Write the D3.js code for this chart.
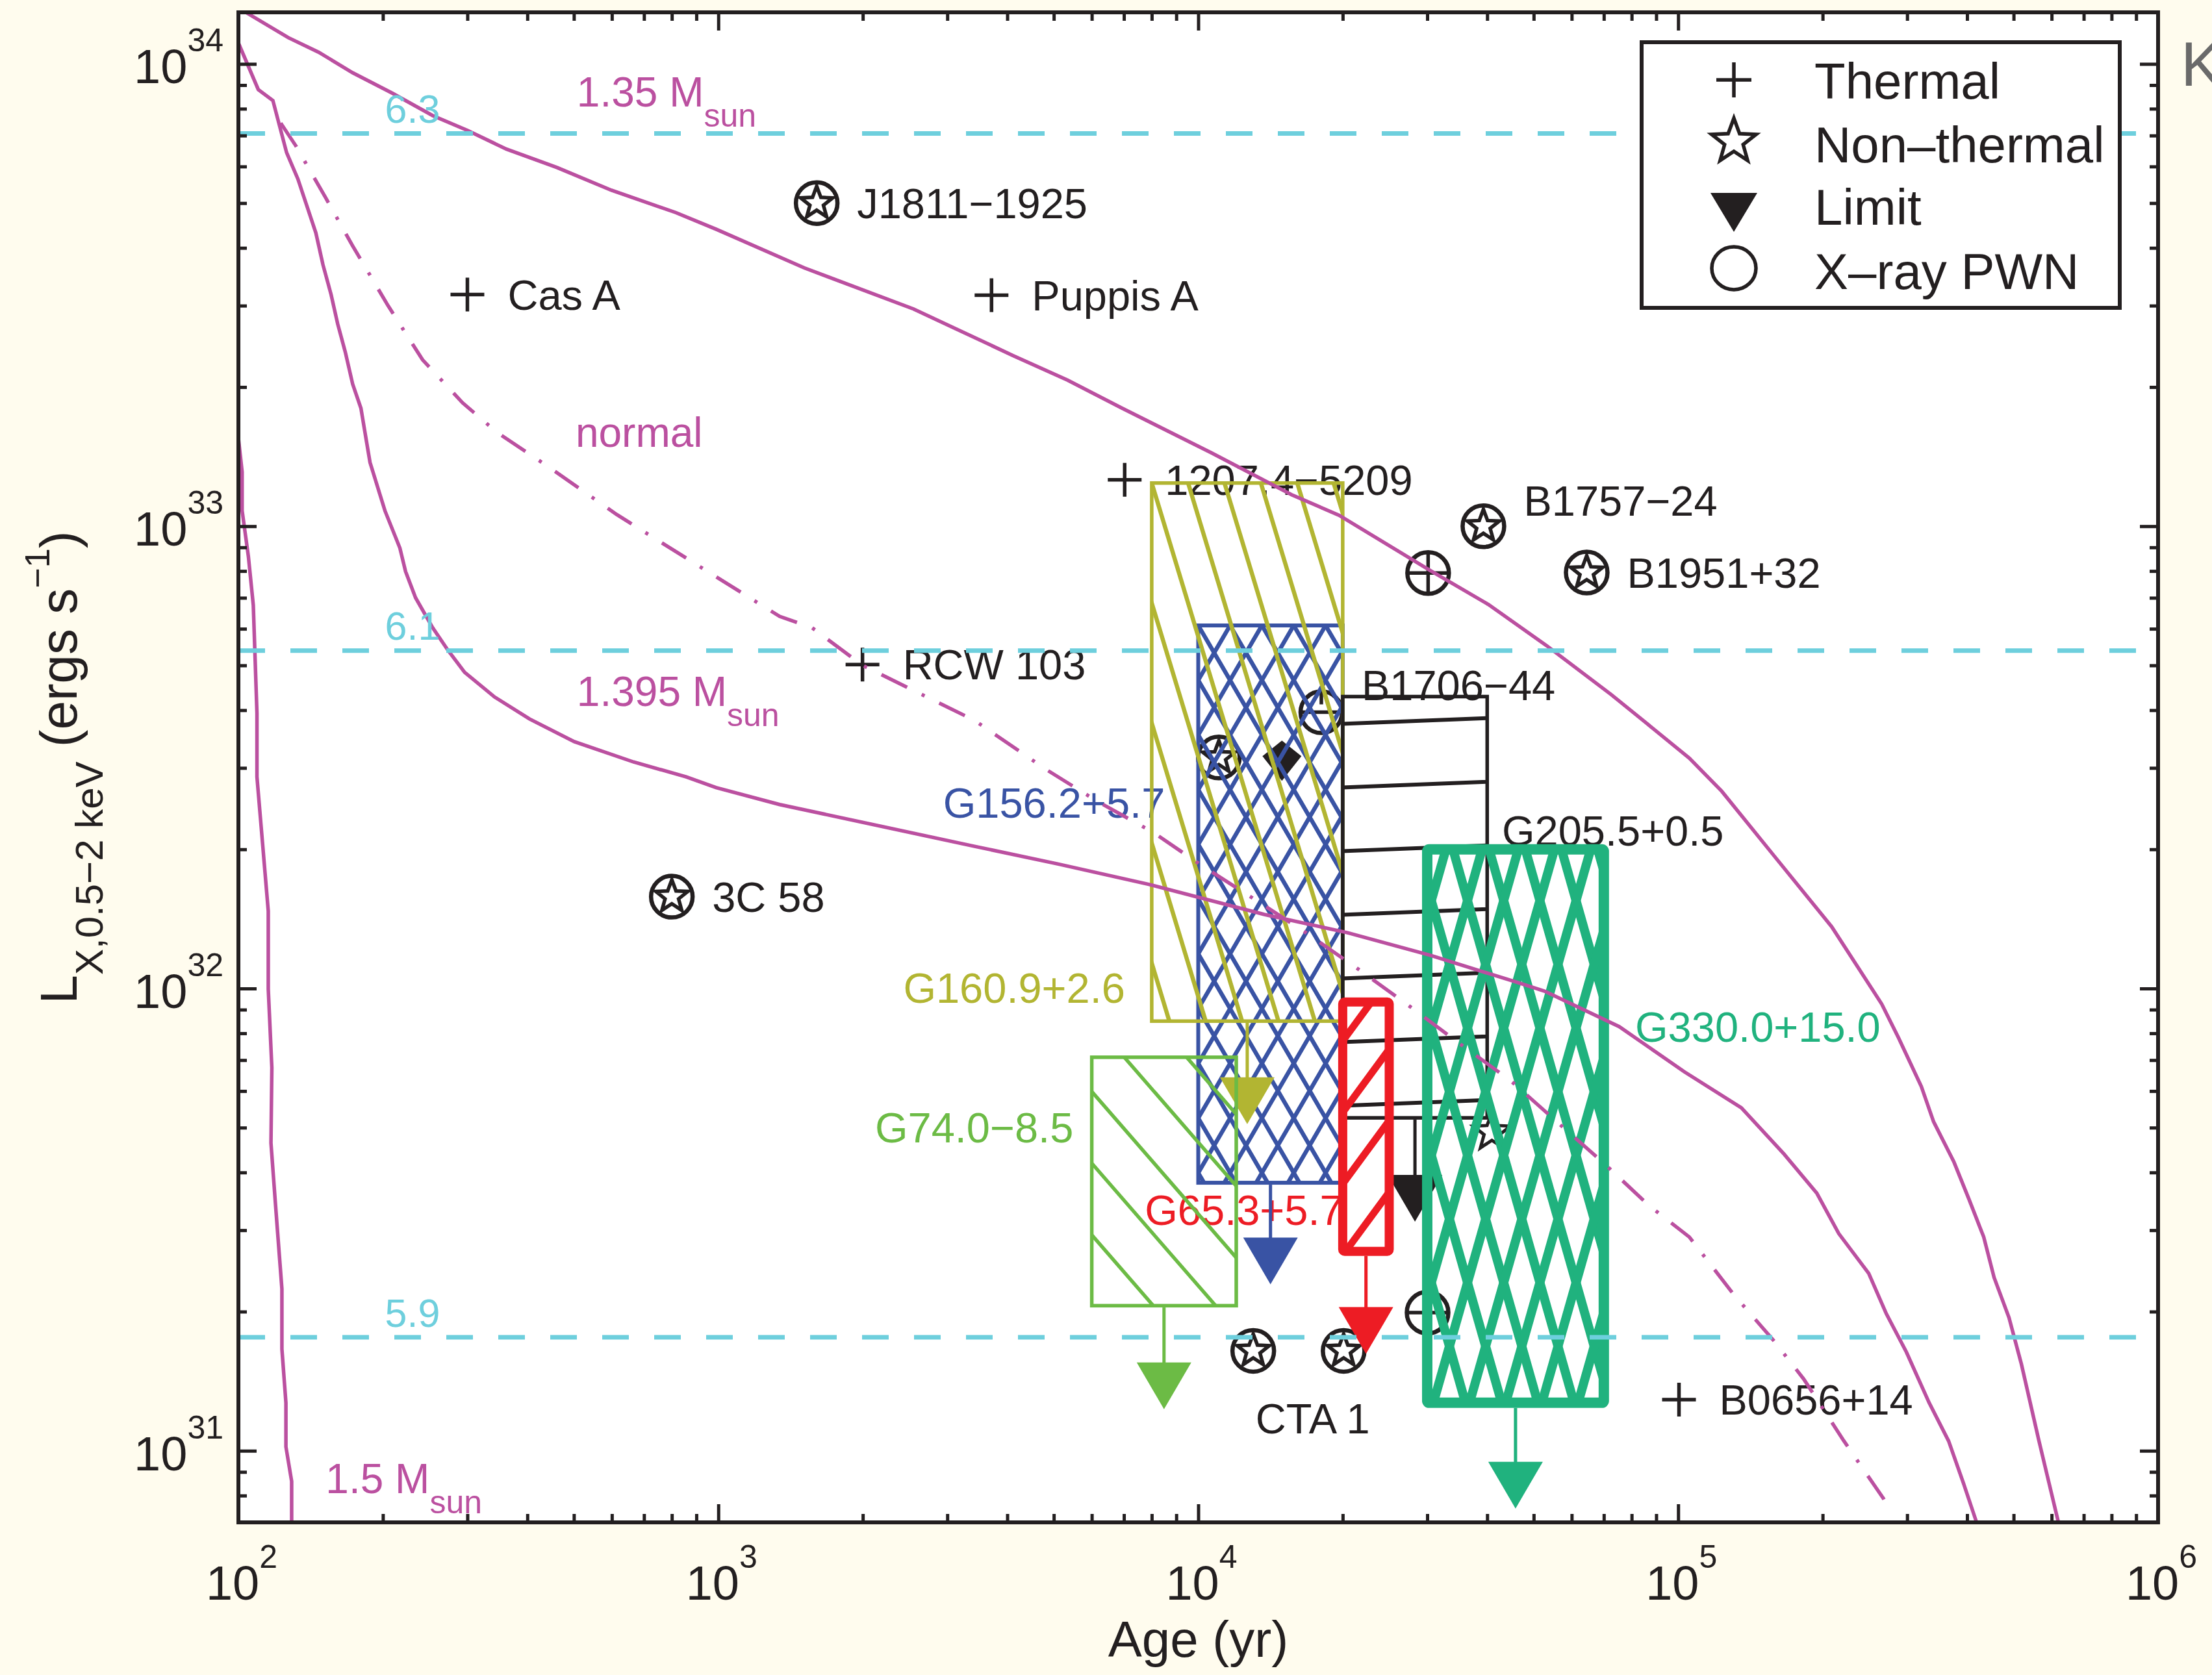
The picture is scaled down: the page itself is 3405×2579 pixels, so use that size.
<!DOCTYPE html>
<html><head><meta charset="utf-8">
<script src="https://cdn.jsdelivr.net/npm/d3@7"></script>
<style>
body{margin:0;background:#fffcee;}
svg{display:block;}
text{font-family:"Liberation Sans",Arial,Helvetica,sans-serif;}
</style>
</head><body>
<script>
// ---------------- DATA ----------------
// cooling curves: [age (yr), L_X (erg/s)]
const curve135 = [[104,1.29e34],[127,1.14e34],[147,1.06e34],[173,9.57e33],[209,8.65e33],[254,7.73e33],[300,7.18e33],[362,6.54e33],[461,5.97e33],[599,5.33e33],[815,4.77e33],[989,4.39e33],[1511,3.62e33],[2551,2.95e33],[4111,2.34e33],[5341,2.07e33],[6939,1.80e33],[10670,1.44e33],[15650,1.17e33],[19660,1.056e33],[30310,8.04e32],[40250,6.77e32],[53150,5.52e32],[72570,4.32e32],[85880,3.75e32],[105500,3.15e32],[123300,2.67e32],[158200,1.94e32],[178700,1.66e32],[208900,1.36e32],[265500,9.26e31],[287900,7.82e31],[321100,6.14e31],[340600,5.15e31],[375300,4.22e31],[403200,3.51e31],[433200,2.90e31],[455300,2.37e31],[489100,1.94e31],[519000,1.54e31],[564700,1.05e31],[619900,7.0e30]];
const curve1395 = [[100,1.11e34],[110,8.80e33],[118,8.33e33],[126,6.43e33],[133,5.64e33],[145,4.31e33],[150,3.68e33],[156,3.17e33],[161,2.74e33],[167,2.38e33],[173,2.03e33],[180,1.80e33],[188,1.375e33],[202,1.08e33],[217,8.97e32],[223,7.98e32],[234,7.0e32],[254,6.03e32],[273,5.40e32],[296,4.83e32],[342,4.27e32],[404,3.83e32],[501,3.42e32],[666,3.09e32],[857,2.87e32],[989,2.72e32],[1342,2.50e32],[3420,2.03e32],[5091,1.86e32],[7886,1.68e32],[13730,1.446e32],[20470,1.32e32],[30460,1.18e32],[45340,1.037e32],[52660,9.87e31],[75370,8.27e31],[102900,6.61e31],[135400,5.52e31],[166300,4.38e31],[194400,3.61e31],[216100,2.95e31],[249500,2.42e31],[271400,1.98e31],[298900,1.635e31],[333400,1.27e31],[366000,1.05e31],[393200,8.5e30],[418600,7.0e30]];
const curveNormal = [[122.5,7.45e33],[131.6,6.66e33],[151.9,5.14e33],[173,4.04e33],[205,3.0e33],[242,2.29e33],[293,1.85e33],[346,1.595e33],[440,1.35e33],[614,1.06e33],[941,8.03e32],[1342,6.38e32],[1568,6.03e32],[1997,5.0e32],[3420,3.80e32],[4788,2.99e32],[6201,2.53e32],[8035,2.18e32],[10210,1.84e32],[13480,1.53e32],[16770,1.32e32],[21720,1.095e32],[27620,9.14e31],[35220,7.57e31],[44760,6.32e31],[56560,5.09e31],[70150,4.18e31],[86990,3.39e31],[105500,2.90e31],[130900,2.17e31],[158200,1.73e31],[182600,1.43e31],[221500,1.05e31],[268000,7.87e30],[278300,7.31e30]];
const curve15 = [[100,1.55e33],[101.8,1.31e33],[101.8,1.08e33],[104.9,8.6e32],[107.4,6.75e32],[109.3,3.94e32],[109.3,2.87e32],[115.4,1.47e32],[115.4,9.97e31],[117.4,6.74e31],[116.9,4.63e31],[119.7,3.32e31],[123.2,2.24e31],[123.2,1.66e31],[125.6,1.27e31],[125.6,1.02e31],[129.1,8.59e30],[129.1,7.0e30]];
const curveLabels = [["1.35 M","sun",507,8.10e33],["normal","",504,1.485e33],["1.395 M","sun",507,4.09e32],["1.5 M","sun",152,8.11e30]];

// constant-temperature lines (log T) and their labels
const tempLabels = ["6.3","6.1","5.9"];
const tempL = [7.07e33,5.38e32,1.76e31];
const tempLabelAge = 202;
const tempLabelL = [7.46e33,5.68e32,1.854e31];

// point sources
const thermalNames = ["Cas A","Puppis A","1207.4\u22125209","RCW 103","B0656+14"];
const thermalAge = [300,3709,7026,1997,100400];
const thermalL = [3.17e33,3.16e33,1.26e33,5.02e32,1.29e31];
const pwnStarNames = ["J1811\u22121925","B1757\u221224","B1951+32","3C 58","","",""];
const pwnStarAge = [1603,39280,64480,800,11040,13020,20090];
const pwnStarL = [5.0e33,1.0e33,7.94e32,1.58e32,3.16e32,1.645e31,1.645e31];
const pwnPlusAge = [30130];
const pwnPlusL = [7.92e32];
const pwnMinusNames = ["B1706\u221244",""];
const pwnMinusAge = [18050,30050];
const pwnMinusL = [3.96e32,1.99e31];
const starAge = [40910];
const starL = [4.89e31];
const limitAge = [14940];
const limitL = [3.12e32];
const ctaLabel = ["CTA 1",13170,1.089e31];

// SNR constraint boxes
const snrNames = ["G160.9+2.6","G156.2+5.7","G205.5+0.5","G65.3+5.7","G74.0\u22128.5","G330.0+15.0"];
const snrAgeMin = [8000,10000,20000,20000,6000,30000];
const snrAgeMax = [20000,20000,40000,25000,12000,70000];
const snrLmin = [8.5e31,3.8e31,5.25e31,2.70e31,2.06e31,1.27e31];
const snrLmax = [1.24e33,6.1e32,4.28e32,9.35e31,7.1e31,2.0e32];
const snrArrowTip = [5.09e31,2.29e31,3.13e31,1.62e31,1.23e31,7.5e30];
const snrLabelAge = [7041,8525,42930,7740,5494,81360];
const snrLabelL = [9.31e31,2.34e32,2.04e32,3.08e31,4.65e31,7.68e31];

const xMajor = [1e2,1e3,1e4,1e5,1e6];
const xExp = ["2","3","4","5","6"];
const yMajor = [1e31,1e32,1e33,1e34];
const yExp = ["31","32","33","34"];
const legendLabels = ["Thermal","Non\u2013thermal","Limit","X\u2013ray PWN"];

// ---------------- STYLE ----------------
const W=3405,H=2579;
const M={left:367,right:3322,top:19,bottom:2344};
const ink="#231f20", mag="#bb50a0", cyan="#6ecfdd";
const snrStyle = [
  {color:"#b2b532", sw:5.5, hw:6.5, label:"end", fam:[{d:[1,3.3],o:[56,0],a:[0,0]}]},
  {color:"#3953a4", sw:6, hw:6.5, label:"end", fam:[{d:[1,1.72],o:[49,0],a:[0,0]},{d:[1,-1.72],o:[49,0],a:[0,0]}]},
  {color:ink, sw:5.5, hw:6, label:"start", lcolor:ink, fam:[{d:[1,-0.04],o:[0,98],a:[0,42]}]},
  {color:"#ed1c24", sw:14, hw:11, label:"start", fam:[{d:[1,-1.36],o:[0,110],a:[0,60]}]},
  {color:"#6cbb45", sw:5.5, hw:5.5, label:"end", fam:[{d:[1,1.15],o:[96,0],a:[50,0]}]},
  {color:"#20b27e", sw:16, hw:14, label:"start", fam:[{d:[1,3.52],o:[55.7,0],a:[62,79]},{d:[1,-3.52],o:[55.7,0],a:[62,79]}]}
];
const drawOrder=[1,0,4,2,3,5];
const labelDx=62, labelDy={"B1757\u221224":-16,"B1706\u221244":-19};

const x=d3.scaleLog().domain([100,1e6]).range([M.left,M.right]);
const y=d3.scaleLog().domain([7.0e30,1.293e34]).range([M.bottom,M.top]);

const svg=d3.select("body").append("svg").attr("width",W).attr("height",H);
svg.append("rect").attr("width",W).attr("height",H).attr("fill","#fffcee");
svg.append("rect").attr("x",M.left).attr("y",M.top).attr("width",M.right-M.left).attr("height",M.bottom-M.top).attr("fill","#fff");
const defs=svg.append("defs");
defs.append("clipPath").attr("id","plotclip").append("rect").attr("x",M.left).attr("y",M.top).attr("width",M.right-M.left).attr("height",M.bottom-M.top);

const plot=svg.append("g").attr("clip-path","url(#plotclip)");

function starPath(R,r){const p=[];for(let i=0;i<10;i++){const a=-Math.PI/2+i*Math.PI/5;const rr=i%2?r:R;p.push([rr*Math.cos(a),rr*Math.sin(a)]);}return "M"+p.map(q=>q[0].toFixed(2)+","+q[1].toFixed(2)).join("L")+"Z";}
function plus(g,cx,cy,a,sw){g.append("path").attr("d",`M${cx-a},${cy}H${cx+a}M${cx},${cy-a}V${cy+a}`).attr("stroke",ink).attr("stroke-width",sw).attr("fill","none");}
function circ(g,cx,cy,r){g.append("circle").attr("cx",cx).attr("cy",cy).attr("r",r).attr("fill","none").attr("stroke",ink).attr("stroke-width",6.5);}
function star(g,cx,cy,R,sw){g.append("path").attr("d",starPath(R,R*0.42)).attr("transform",`translate(${cx},${cy})`).attr("fill","#fff").attr("stroke",ink).attr("stroke-width",sw).attr("stroke-linejoin","miter");}
function label(g,txt,cx,cy,dy){if(!txt)return;g.append("text").attr("x",cx+labelDx).attr("y",cy+(labelDy[txt]!==undefined?labelDy[txt]:dy)).attr("font-size",65).attr("fill",ink).text(txt);}

// ---- markers & labels ----
const mk=plot.append("g");
thermalAge.forEach((a,i)=>{const cx=x(a),cy=y(thermalL[i]);plus(mk,cx,cy,26,5.5);label(mk,thermalNames[i],cx,cy,23);});
pwnStarAge.forEach((a,i)=>{const cx=x(a),cy=y(pwnStarL[i]);circ(mk,cx,cy,32);star(mk,cx,cy,26,5.5);label(mk,pwnStarNames[i],cx,cy,23);});
pwnPlusAge.forEach((a,i)=>{const cx=x(a),cy=y(pwnPlusL[i]);circ(mk,cx,cy,32);plus(mk,cx,cy,32,5.5);});
pwnMinusAge.forEach((a,i)=>{const cx=x(a),cy=y(pwnMinusL[i]);circ(mk,cx,cy,32);
  mk.append("path").attr("d",`M${cx-32},${cy}H${cx+32}`+(pwnMinusNames[i]?`M${cx},${cy-32}V${cy-12}`:"")).attr("stroke",ink).attr("stroke-width",5.5).attr("fill","none");
  label(mk,pwnMinusNames[i],cx,cy,23);});
starAge.forEach((a,i)=>{star(mk,x(a),y(starL[i]),30,5);});
limitAge.forEach((a,i)=>{const cx=x(a),cy=y(limitL[i]);mk.append("path").attr("d",`M${cx},${cy-30}L${cx+30},${cy-6}L${cx},${cy+32}L${cx-30},${cy-6}Z`).attr("fill",ink);});
mk.append("text").attr("x",x(ctaLabel[1])).attr("y",y(ctaLabel[2])).attr("font-size",65).attr("fill",ink).text(ctaLabel[0]);
snrNames.forEach((n,i)=>{const st=snrStyle[i];mk.append("text").attr("x",x(snrLabelAge[i])).attr("y",y(snrLabelL[i])).attr("text-anchor",st.label).attr("font-size",65).attr("fill",st.lcolor||st.color).text(n);});

// ---- SNR boxes ----
drawOrder.forEach(i=>{
  const st=snrStyle[i];
  const x0=x(snrAgeMin[i]),x1=x(snrAgeMax[i]),y0=y(snrLmax[i]),y1=y(snrLmin[i]);
  const g=plot.append("g");
  const cid="hc"+i;
  defs.append("clipPath").attr("id",cid).append("rect").attr("x",x0).attr("y",y0).attr("width",x1-x0).attr("height",y1-y0);
  const hg=g.append("g").attr("clip-path",`url(#${cid})`);
  st.fam.forEach(f=>{
    let d="";
    for(let k=-70;k<=70;k++){
      const px=x0+f.a[0]+k*f.o[0], py=y0+f.a[1]+k*f.o[1];
      const L=1500;
      d+=`M${(px-f.d[0]*L).toFixed(1)},${(py-f.d[1]*L).toFixed(1)}L${(px+f.d[0]*L).toFixed(1)},${(py+f.d[1]*L).toFixed(1)}`;
    }
    hg.append("path").attr("d",d).attr("stroke",st.color).attr("stroke-width",st.hw).attr("fill","none");
  });
  g.append("rect").attr("x",x0).attr("y",y0).attr("width",x1-x0).attr("height",y1-y0).attr("fill","none").attr("stroke",st.color).attr("stroke-width",st.sw).attr("stroke-linejoin",st.sw>10?"round":"miter").attr("rx",st.sw>10?3:0);
  const ax=x(Math.sqrt(snrAgeMin[i]*snrAgeMax[i])), tip=y(snrArrowTip[i]);
  g.append("line").attr("x1",ax).attr("x2",ax).attr("y1",y1+st.sw/2).attr("y2",tip-70).attr("stroke",st.color).attr("stroke-width",5);
  g.append("path").attr("d",`M${ax-42},${tip-72}L${ax+42},${tip-72}L${ax},${tip}Z`).attr("fill",st.color);
});

// ---- cooling curves ----
const line=d3.line().x(d=>x(d[0])).y(d=>y(d[1]));
const cg=plot.append("g").attr("fill","none").attr("stroke",mag).attr("stroke-width",5.5);
cg.append("path").attr("d",line(curve135));
cg.append("path").attr("d",line(curve1395));
cg.append("path").attr("d",line(curve15));
cg.append("path").attr("d",line(curveNormal)).attr("stroke-dasharray","44,25,5,25");
curveLabels.forEach(c=>{
  const t=plot.append("text").attr("x",x(c[2])).attr("y",y(c[3])).attr("font-size",64).attr("fill",mag);
  t.append("tspan").text(c[0]);
  if(c[1]) t.append("tspan").attr("font-size",50).attr("dy",31).text(c[1]);
});

// ---- temperature lines ----
tempL.forEach((L,i)=>{
  plot.append("line").attr("x1",M.left).attr("x2",M.right).attr("y1",y(L)).attr("y2",y(L)).attr("stroke",cyan).attr("stroke-width",7).attr("stroke-dasharray","41,39");
  plot.append("text").attr("x",x(tempLabelAge)).attr("y",y(tempLabelL[i])).attr("font-size",61).attr("fill",cyan).text(tempLabels[i]);
});

// ---- axes ----
const minorX=[];[100,1000,10000,100000].forEach(b=>{for(let m=2;m<=9;m++)minorX.push(b*m);});
const minorY=[];[1e30,1e31,1e32,1e33,1e34].forEach(b=>{for(let m=2;m<=9;m++){const v=b*m;if(v>=7e30&&v<=1.29e34)minorY.push(v);}});
function styleAxis(g){g.select(".domain").remove();g.selectAll(".tick line").attr("stroke",ink).attr("stroke-width",5);g.selectAll("text").remove();}
const axG=svg.append("g");
axG.append("g").attr("transform",`translate(0,${M.bottom})`).call(d3.axisBottom(x).tickValues(xMajor).tickSize(-28).tickSizeOuter(0)).call(styleAxis);
axG.append("g").attr("transform",`translate(0,${M.bottom})`).call(d3.axisBottom(x).tickValues(minorX).tickSize(-13).tickSizeOuter(0)).call(styleAxis);
axG.append("g").attr("transform",`translate(0,${M.top})`).call(d3.axisTop(x).tickValues(xMajor).tickSize(-28).tickSizeOuter(0)).call(styleAxis);
axG.append("g").attr("transform",`translate(0,${M.top})`).call(d3.axisTop(x).tickValues(minorX).tickSize(-13).tickSizeOuter(0)).call(styleAxis);
axG.append("g").attr("transform",`translate(${M.left},0)`).call(d3.axisLeft(y).tickValues(yMajor).tickSize(-28).tickSizeOuter(0)).call(styleAxis);
axG.append("g").attr("transform",`translate(${M.left},0)`).call(d3.axisLeft(y).tickValues(minorY).tickSize(-13).tickSizeOuter(0)).call(styleAxis);
axG.append("g").attr("transform",`translate(${M.right},0)`).call(d3.axisRight(y).tickValues(yMajor).tickSize(-28).tickSizeOuter(0)).call(styleAxis);
axG.append("g").attr("transform",`translate(${M.right},0)`).call(d3.axisRight(y).tickValues(minorY).tickSize(-13).tickSizeOuter(0)).call(styleAxis);
svg.append("rect").attr("x",M.left).attr("y",M.top).attr("width",M.right-M.left).attr("height",M.bottom-M.top).attr("fill","none").attr("stroke",ink).attr("stroke-width",6);

function powLabel(px,py,exp,anchor){const t=svg.append("text").attr("x",px).attr("y",py).attr("text-anchor",anchor).attr("font-size",74).attr("fill",ink);t.append("tspan").text("10");t.append("tspan").attr("font-size",50).attr("dy",-49).text(exp);}
xMajor.forEach((v,i)=>powLabel(x(v)+5,2463,xExp[i],"middle"));
yMajor.forEach((v,i)=>powLabel(344,y(v)+30,yExp[i],"end"));

svg.append("text").attr("x",(M.left+M.right)/2).attr("y",2551).attr("text-anchor","middle").attr("font-size",78).attr("fill",ink).text("Age (yr)");
const yt=svg.append("text").attr("transform",`translate(118,${(M.top+M.bottom)/2}) rotate(-90)`).attr("text-anchor","middle").attr("font-size",80).attr("fill",ink);
yt.append("tspan").text("L");
yt.append("tspan").attr("font-size",60).attr("dy",40).text("X,0.5\u22122 keV");
yt.append("tspan").attr("font-size",80).attr("dy",-40).text("\u00a0(ergs s");
yt.append("tspan").attr("font-size",54).attr("dy",-42).text("\u22121");
yt.append("tspan").attr("font-size",80).attr("dy",42).text(")");

// ---- legend ----
const lg=svg.append("g");
lg.append("rect").attr("x",2527).attr("y",65).attr("width",736).attr("height",409).attr("fill","#fff").attr("stroke",ink).attr("stroke-width",6);
const lx=2669, ly=[123,218,327,413], lb=[152,250,346,445];
plus(lg,lx,ly[0],27,5.5);
lg.append("path").attr("d",starPath(36,15)).attr("transform",`translate(${lx},${ly[1]})`).attr("fill","#fff").attr("stroke",ink).attr("stroke-width",5.5);
lg.append("path").attr("d",`M${lx-36},${ly[2]-30}L${lx+36},${ly[2]-30}L${lx},${ly[2]+30}Z`).attr("fill",ink);
lg.append("ellipse").attr("cx",lx).attr("cy",ly[3]).attr("rx",34).attr("ry",33).attr("fill","none").attr("stroke",ink).attr("stroke-width",5.5);
legendLabels.forEach((t,i)=>lg.append("text").attr("x",2793).attr("y",lb[i]).attr("font-size",78).attr("fill",ink).text(t));

svg.append("text").attr("x",3357).attr("y",132).attr("font-size",96).attr("fill","#6a6a6a").text("K");
</script>
</body></html>
